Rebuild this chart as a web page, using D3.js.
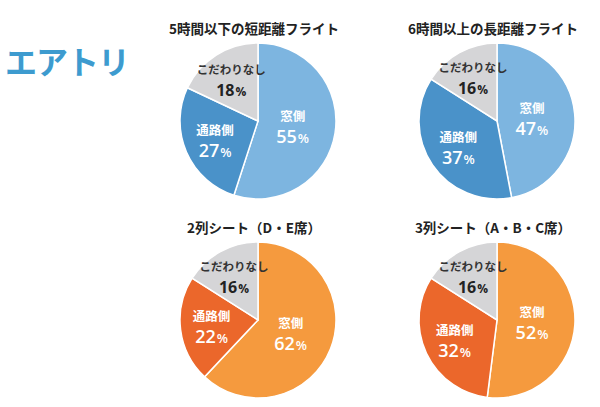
<!DOCTYPE html>
<html>
<head>
<meta charset="utf-8">
<script src="https://cdn.jsdelivr.net/npm/d3@7"></script>
<style>
  body { margin: 0; background: #fff; }
  svg { display: block; font-family: "Noto Sans CJK JP", "Noto Sans", sans-serif; }
</style>
</head>
<body>
<script>
// data
const categories = ["窓側", "通路側", "こだわりなし"];
const chartTitles = ["5時間以下の短距離フライト", "6時間以上の長距離フライト", "2列シート（D・E席）", "3列シート（A・B・C席）"];
const shortHaul = [55, 27, 18];
const longHaul = [47, 37, 16];
const twoSeatRow = [62, 22, 16];
const threeSeatRow = [52, 32, 16];
const brandName = "エアトリ";

const width = 600, height = 407;

const bluePalette = ["#7db5e0", "#4a92c9", "#d5d5d7"];
const orangePalette = ["#f59a3e", "#eb672b", "#d5d5d7"];
// label distance from centre, as part of radius, per category
const labelRadius = [0.45, 0.6, 0.64];

const panels = [
  {title: chartTitles[0], values: shortHaul, colors: bluePalette, cx: 258, cy: 121},
  {title: chartTitles[1], values: longHaul, colors: bluePalette, cx: 497, cy: 121},
  {title: chartTitles[2], values: twoSeatRow, colors: orangePalette, cx: 258, cy: 320},
  {title: chartTitles[3], values: threeSeatRow, colors: orangePalette, cx: 497, cy: 320}
];
const R = 78;

const svg = d3.select("body").append("svg")
  .attr("width", width)
  .attr("height", height)
  .attr("viewBox", [0, 0, width, height]);

// logo
svg.append("text")
  .attr("x", 5)
  .attr("y", 74)
  .attr("fill", "#3d9bcf")
  .attr("font-size", 32)
  .attr("font-weight", 700)
  .attr("letter-spacing", -1)
  .text(brandName);

const pie = d3.pie().sort(null).value(d => d.v);
const arc = d3.arc().innerRadius(0).outerRadius(R);

panels.forEach(p => {
  const g = svg.append("g").attr("transform", `translate(${p.cx},${p.cy})`);

  // title
  svg.append("text")
    .attr("x", p.cx - 4)
    .attr("y", p.cy - R - 9)
    .attr("text-anchor", "middle")
    .attr("font-size", 13.5)
    .attr("font-weight", 700)
    .attr("fill", "#222")
    .text(p.title);

  const arcs = pie(categories.map((c, i) => ({c: c, v: p.values[i], i: i})));

  g.selectAll("path")
    .data(arcs)
    .join("path")
    .attr("d", arc)
    .attr("fill", d => p.colors[d.data.i])
    .attr("stroke", "#fff")
    .attr("stroke-width", 1.5);

  const lab = g.selectAll("g.lab")
    .data(arcs)
    .join("g")
    .attr("class", "lab")
    .attr("transform", d => {
      const a = (d.startAngle + d.endAngle) / 2;
      const r = R * labelRadius[d.data.i];
      return `translate(${Math.sin(a) * r},${-Math.cos(a) * r})`;
    });

  lab.append("text")
    .attr("text-anchor", "middle")
    .attr("y", -5)
    .attr("font-size", d => d.data.i == 2 ? 11.5 : 12.5)
    .attr("font-weight", 700)
    .attr("fill", d => d.data.i == 2 ? "#333" : "#fff")
    .text(d => d.data.c);

  const num = lab.append("text")
    .attr("text-anchor", "middle")
    .attr("y", 17)
    .attr("font-weight", d => d.data.i == 2 ? 700 : 600)
    .attr("fill", d => d.data.i == 2 ? "#222" : "#fff")
    .attr("font-family", "'Open Sans', 'Noto Sans', sans-serif");
  num.append("tspan").attr("font-size", d => d.data.i == 2 ? 16 : 18).text(d => d.data.v);
  num.append("tspan").attr("font-size", d => d.data.i == 2 ? 12 : 13).attr("dx", 1).text("%");
});
</script>
</body>
</html>
